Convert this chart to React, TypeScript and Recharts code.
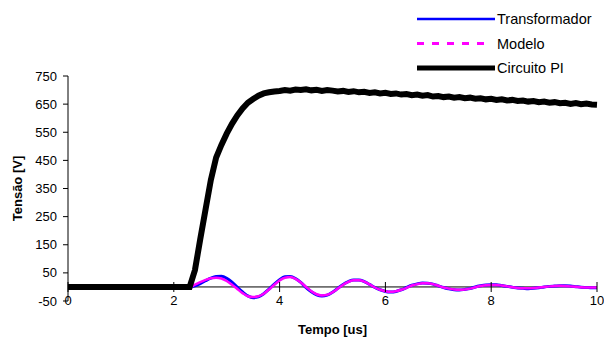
import { LineChart, Line, XAxis, YAxis, ReferenceLine, Legend, Label } from 'recharts';

// tempo em microssegundos
const tempo = [
  0, 0.1, 0.2, 0.3, 0.4, 0.5, 0.6, 0.7, 0.8, 0.9,
  1, 1.1, 1.2, 1.3, 1.4, 1.5, 1.6, 1.7, 1.8, 1.9,
  2, 2.1, 2.2, 2.3, 2.4, 2.5, 2.6, 2.7, 2.8, 2.9,
  3, 3.1, 3.2, 3.3, 3.4, 3.5, 3.6, 3.7, 3.8, 3.9,
  4, 4.1, 4.2, 4.3, 4.4, 4.5, 4.6, 4.7, 4.8, 4.9,
  5, 5.1, 5.2, 5.3, 5.4, 5.5, 5.6, 5.7, 5.8, 5.9,
  6, 6.1, 6.2, 6.3, 6.4, 6.5, 6.6, 6.7, 6.8, 6.9,
  7, 7.1, 7.2, 7.3, 7.4, 7.5, 7.6, 7.7, 7.8, 7.9,
  8, 8.1, 8.2, 8.3, 8.4, 8.5, 8.6, 8.7, 8.8, 8.9,
  9, 9.1, 9.2, 9.3, 9.4, 9.5, 9.6, 9.7, 9.8, 9.9,
  10,
];

const transformador = [
  0, 0, 0, 0, 0, 0, 0, 0, 0, 0,
  0, 0, 0, 0, 0, 0, 0, 0, 0, 0,
  0, 0, 0, 0, 4, 12, 22, 31, 37, 38,
  31, 17, -1, -18, -32, -38, -35, -24, -8, 10,
  26, 36, 37, 30, 16, -2, -17, -28, -32, -29,
  -19, -5, 9, 19, 25, 25, 19, 9, -2, -10,
  -16, -18, -16, -10, -2, 6, 11, 14, 13, 10,
  4, -2, -7, -10, -11, -9, -6, 0, 4, 7,
  8, 8, 5, 2, -1, -4, -5, -6, -5, -3,
  0, 2, 3, 4, 4, 3, 1, -1, -2, -3,
  -3,
];

const modelo = [
  0, 0, 0, 0, 0, 0, 0, 0, 0, 0,
  0, 0, 0, 0, 0, 0, 0, 0, 0, 0,
  0, 0, 0, 0, 8, 17, 25, 31, 33, 30,
  21, 8, -7, -22, -33, -36, -33, -24, -9, 8,
  23, 33, 35, 29, 16, 0, -15, -26, -30, -28,
  -19, -6, 8, 18, 24, 24, 19, 9, -2, -10,
  -15, -17, -15, -10, -3, 5, 10, 13, 13, 10,
  4, -2, -6, -9, -10, -9, -6, -1, 3, 6,
  7, 7, 5, 2, -1, -4, -5, -5, -4, -2,
  0, 2, 3, 4, 3, 2, 1, -1, -2, -2,
  -2,
];

const circuitoPI = [
  0, 0, 0, 0, 0, 0, 0, 0, 0, 0,
  0, 0, 0, 0, 0, 0, 0, 0, 0, 0,
  0, 0, 0, 0, 60, 170, 275, 380, 460, 505,
  545, 580, 610, 635, 655, 668, 680, 688, 692, 695,
  697, 700, 698, 702, 700, 703, 699, 701, 697, 700,
  698, 695, 697, 693, 696, 692, 694, 690, 692, 688,
  690, 686, 688, 684, 686, 682, 684, 680, 682, 677,
  679, 675, 677, 673, 675, 671, 673, 669, 671, 667,
  669, 665, 667, 663, 665, 661, 663, 659, 661, 657,
  659, 655, 657, 653, 655, 651, 654, 650, 652, 649,
  648,
];

const seriesNames = ['Transformador', 'Modelo', 'Circuito PI'];
const xTicks = [0, 2, 4, 6, 8, 10];
const yTicks = [-50, 50, 150, 250, 350, 450, 550, 650, 750];

const FONT = 'Arial, "Liberation Sans", sans-serif';

const data = tempo.map((t, i) => ({
  t,
  transformador: transformador[i],
  modelo: modelo[i],
  circuitoPI: circuitoPI[i],
}));

// the x axis crosses at y = 0, so tick marks sit on that line and labels just under it
const XTick = ({ x, y, payload }: any) => (
  <g>
    <line x1={x} x2={x} y1={y - 19} y2={y - 9} stroke="#000" strokeWidth={1} />
    <text x={x} y={y + 4} textAnchor="middle" fontSize={13} fontFamily={FONT} fill="#000">
      {payload.value}
    </text>
  </g>
);

const legendDash: Record<string, string | undefined> = { Modelo: '7 8' };
const legendWidth: Record<string, number> = { Transformador: 2.5, Modelo: 3, 'Circuito PI': 5 };
const legendEnd: Record<string, number> = { Transformador: 495, Modelo: 485, 'Circuito PI': 495 };

const renderLegend = ({ payload }: any) => {
  const entries = [...(payload || [])].sort(
    (a: any, b: any) => seriesNames.indexOf(a.value) - seriesNames.indexOf(b.value)
  );
  return (
    <svg width={604} height={80} style={{ display: 'block' }}>
      {entries.map((entry: any, i: number) => {
        const y = 19 + i * 24.5;
        return (
          <g key={entry.value}>
            <line
              x1={417}
              x2={legendEnd[entry.value]}
              y1={y}
              y2={y}
              stroke={entry.color}
              strokeWidth={legendWidth[entry.value]}
              strokeDasharray={legendDash[entry.value]}
            />
            <text x={497} y={y} dy="0.36em" fontSize={14.5} fontFamily={FONT} fill="#000">
              {entry.value}
            </text>
          </g>
        );
      })}
    </svg>
  );
};

export default function App() {
  return (
    <div style={{ position: 'absolute', left: 0, top: 0, width: 604, height: 338, background: '#fff' }}>
      <LineChart width={604} height={338} data={data} margin={{ top: 76, right: 7, bottom: 0, left: 0 }}>
        <XAxis
          dataKey="t"
          type="number"
          domain={[0, 10]}
          ticks={xTicks}
          axisLine={false}
          tickLine={false}
          tickSize={0}
          tickMargin={0}
          height={37}
          tick={<XTick />}
          interval={0}
        >
          <Label
            value="Tempo [us]"
            position="insideBottom"
            offset={4}
            style={{ fontSize: 13, fontWeight: 'bold', fontFamily: FONT, fill: '#000' }}
          />
        </XAxis>
        <YAxis
          type="number"
          domain={[-50, 750]}
          ticks={yTicks}
          width={68}
          axisLine={{ stroke: '#000' }}
          tickLine={{ stroke: '#000' }}
          tickSize={5}
          tickMargin={6}
          interval={0}
          tick={{ fontSize: 13, fontFamily: FONT, fill: '#000' }}
        >
          <Label
            content={(props: any) => {
              const vb = props.viewBox || { y: 76, height: 225 };
              const cy = vb.y + vb.height / 2;
              return (
                <text
                  x={17}
                  y={cy}
                  dy="0.36em"
                  transform={`rotate(-90, 17, ${cy})`}
                  textAnchor="middle"
                  fontSize={13}
                  fontWeight="bold"
                  fontFamily={FONT}
                  fill="#000"
                >
                  Tensão [V]
                </text>
              );
            }}
          />
        </YAxis>
        <ReferenceLine y={0} stroke="#000" strokeWidth={1} />
        <Legend
          content={renderLegend}
          layout="vertical"
          align="center"
          verticalAlign="middle"
          wrapperStyle={{ position: 'absolute', top: 0, left: 0, width: 604, height: 80, pointerEvents: 'none' }}
        />
        <Line
          name="Transformador"
          dataKey="transformador"
          type="monotone"
          stroke="#0000ff"
          strokeWidth={3}
          dot={false}
          isAnimationActive={false}
        />
        <Line
          name="Modelo"
          dataKey="modelo"
          type="monotone"
          stroke="#ff00ff"
          strokeWidth={2.5}
          dot={false}
          isAnimationActive={false}
        />
        <Line
          name="Circuito PI"
          dataKey="circuitoPI"
          type="linear"
          stroke="#000"
          strokeWidth={6}
          dot={false}
          isAnimationActive={false}
        />
      </LineChart>
    </div>
  );
}
